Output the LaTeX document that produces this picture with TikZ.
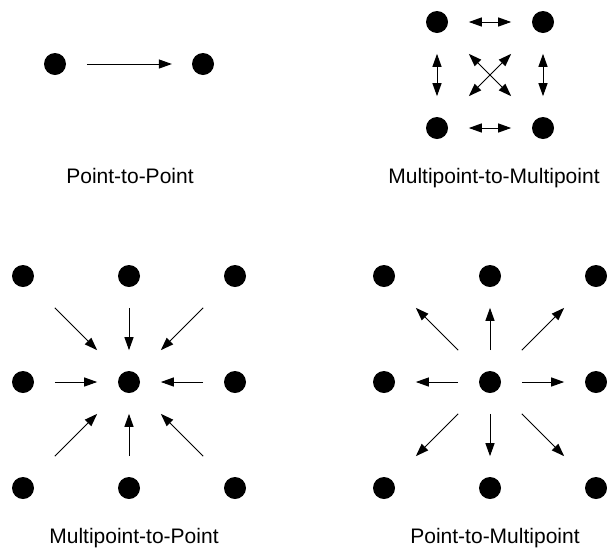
\documentclass[tikz,border=0pt]{standalone}
\usepackage{fontspec}
\setmainfont{Liberation Sans}
\usetikzlibrary{calc,arrows.meta}
\begin{document}
\begin{tikzpicture}[x=1pt,y=-1pt,
  dot/.style={circle,fill=black,inner sep=0pt,minimum size=22pt},
  link/.style={line width=1pt,-{Triangle[length=13pt,width=9pt]}},
  dlink/.style={line width=1pt,{Triangle[length=13pt,width=9pt]}-{Triangle[length=13pt,width=9pt]}},
  caption/.style={anchor=base,inner sep=0pt,font=\fontsize{21}{25}\selectfont}]
\useasboundingbox (0,0) rectangle (607,547);

% point to point
\node[dot] (pA) at (55,64) {};
\node[dot] (pB) at (203,64) {};
\draw[link] ($(pA)!0.216!(pB)$) -- ($(pA)!0.79!(pB)$);
\node[caption] (cap1) at (130,183) {Point-to-Point};

% multipoint to multipoint
\node[dot] (m11) at (437,22) {};
\node[dot] (m12) at (543,22) {};
\node[dot] (m21) at (437,128) {};
\node[dot] (m22) at (543,128) {};
\foreach \a/\b in {m11/m12, m21/m22, m11/m21, m12/m22, m11/m22, m12/m21}
  \draw[dlink] ($(\a)!0.3!(\b)$) -- ($(\a)!0.7!(\b)$);
\node[caption] (cap2) at (494,183) {Multipoint-to-Multipoint};

% multipoint to point
\foreach \i/\x in {1/23,2/129,3/235}
  \foreach \j/\y in {1/276,2/382,3/488}
    \node[dot] (L\i\j) at (\x,\y) {};
\foreach \o in {L11,L21,L31,L12,L32,L13,L23,L33}
  \draw[link] ($(\o)!0.3!(L22)$) -- ($(\o)!0.7!(L22)$);
\node[caption] (cap3) at (134,543) {Multipoint-to-Point};

% point to multipoint
\foreach \i/\x in {1/384,2/490,3/596}
  \foreach \j/\y in {1/276,2/382,3/488}
    \node[dot] (R\i\j) at (\x,\y) {};
\foreach \o in {R11,R21,R31,R12,R32,R13,R23,R33}
  \draw[link] ($(R22)!0.3!(\o)$) -- ($(R22)!0.7!(\o)$);
\node[caption] (cap4) at (495,543) {Point-to-Multipoint};
\end{tikzpicture}
\end{document}
